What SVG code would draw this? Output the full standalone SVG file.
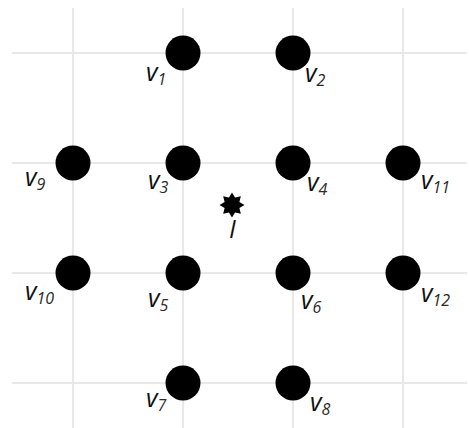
<svg xmlns="http://www.w3.org/2000/svg" width="469" height="428" viewBox="0 0 469 428">
<style>
.grid line{stroke:#e8e8e8;stroke-width:2}
.dot{fill:#000}
.lbl{font-family:"Open Sans","DejaVu Sans",sans-serif;font-style:italic;font-size:25px;fill:#111}
.sub{font-size:16px;fill:#2a2a2a}
</style>
<rect width="469" height="428" fill="#fff"/>
<g class="grid" id="grid">
<line x1="73" y1="8" x2="73" y2="428"/>
<line x1="183" y1="8" x2="183" y2="428"/>
<line x1="293" y1="8" x2="293" y2="428"/>
<line x1="403" y1="8" x2="403" y2="428"/>
<line x1="12" y1="53" x2="467" y2="53"/>
<line x1="12" y1="163" x2="467" y2="163"/>
<line x1="12" y1="273" x2="467" y2="273"/>
<line x1="12" y1="383" x2="467" y2="383"/>
</g>
<g id="connectors"></g>
<g id="v1"><circle class="dot" cx="183" cy="53" r="17.5"/><text class="lbl" x="146" y="81">v<tspan class="sub" dy="4">1</tspan></text></g>
<g id="v2"><circle class="dot" cx="293" cy="53" r="17.5"/><text class="lbl" x="305" y="82">v<tspan class="sub" dy="4">2</tspan></text></g>
<g id="v9"><circle class="dot" cx="73" cy="163" r="17.5"/><text class="lbl" x="25" y="186">v<tspan class="sub" dy="4">9</tspan></text></g>
<g id="v3"><circle class="dot" cx="183" cy="163" r="17.5"/><text class="lbl" x="148" y="189">v<tspan class="sub" dy="4">3</tspan></text></g>
<g id="v4"><circle class="dot" cx="293" cy="163" r="17.5"/><text class="lbl" x="307" y="191">v<tspan class="sub" dy="4">4</tspan></text></g>
<g id="v11"><circle class="dot" cx="403" cy="163" r="17.5"/><text class="lbl" x="421" y="189">v<tspan class="sub" dy="4">11</tspan></text></g>
<g id="I"><path class="dot" d="M232,192.5 L235.06,197.61 L240.84,196.16 L239.39,201.94 L244.5,205 L239.39,208.06 L240.84,213.84 L235.06,212.39 L232,217.5 L228.94,212.39 L223.16,213.84 L224.61,208.06 L219.5,205 L224.61,201.94 L223.16,196.16 L228.94,197.61 Z"/><text class="lbl" x="229" y="238">I</text></g>
<g id="v10"><circle class="dot" cx="73" cy="273" r="17.5"/><text class="lbl" x="25" y="300">v<tspan class="sub" dy="4">10</tspan></text></g>
<g id="v5"><circle class="dot" cx="183" cy="273" r="17.5"/><text class="lbl" x="148" y="307">v<tspan class="sub" dy="4">5</tspan></text></g>
<g id="v6"><circle class="dot" cx="293" cy="273" r="17.5"/><text class="lbl" x="301" y="309">v<tspan class="sub" dy="4">6</tspan></text></g>
<g id="v12"><circle class="dot" cx="403" cy="273" r="17.5"/><text class="lbl" x="421" y="302">v<tspan class="sub" dy="4">12</tspan></text></g>
<g id="v7"><circle class="dot" cx="183" cy="383" r="17.5"/><text class="lbl" x="146" y="407">v<tspan class="sub" dy="4">7</tspan></text></g>
<g id="v8"><circle class="dot" cx="293" cy="383" r="17.5"/><text class="lbl" x="310" y="411">v<tspan class="sub" dy="4">8</tspan></text></g>
</svg>
